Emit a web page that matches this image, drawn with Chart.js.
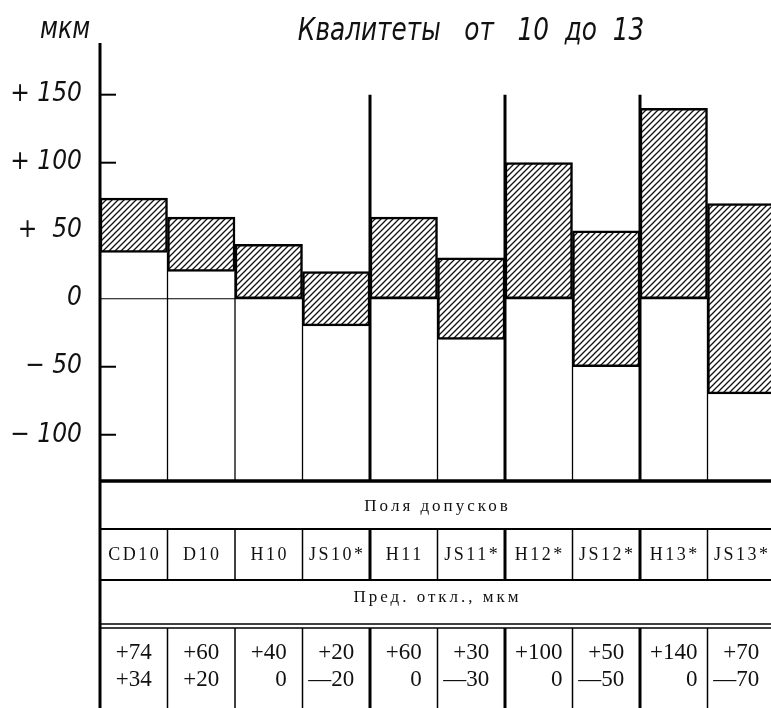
<!DOCTYPE html>
<html>
<head>
<meta charset="utf-8">
<title>Квалитеты от 10 до 13</title>
<script src="https://cdn.jsdelivr.net/npm/chart.js@4.4.1/dist/chart.umd.min.js"></script>
<style>
  html, body { margin: 0; padding: 0; background: #fff; overflow: hidden; }
  #wrap { width: 771px; height: 708px; overflow: hidden; position: relative; }
  #chart { position: absolute; left: 0; top: 0; }
</style>
</head>
<body>
<div id="wrap"><canvas id="chart" width="775" height="708"></canvas></div>
<script>
// tolerance fields, grades 10..13
const categories = ["CD10", "D10", "H10", "JS10*", "H11", "JS11*", "H12*", "JS12*", "H13*", "JS13*"];
const upperDev = [74, 60, 40, 20, 60, 30, 100, 50, 140, 70];
const lowerDev = [34, 20, 0, -20, 0, -30, 0, -50, 0, -70];
const yTicks = [150, 100, 50, 0, -50, -100];
const yTickLabels = ["+ 150", "+ 100", "+  50", "0", "− 50", "− 100"];
const groupStarts = [4, 6, 8]; // first column of grade 11, 12, 13

const handFont = "'Liberation Sans Narrow', 'DejaVu Sans Condensed', sans-serif";
const tableFont = "'Liberation Serif', 'DejaVu Serif', serif";

const canvas = document.getElementById("chart");
const ctx = canvas.getContext("2d");

// diagonal hatch ///
function makeHatch() {
  const s = 6;
  const c = document.createElement("canvas");
  c.width = s;
  c.height = s;
  const g = c.getContext("2d");
  g.fillStyle = "#fff";
  g.fillRect(0, 0, s, s);
  g.strokeStyle = "#111";
  g.lineWidth = 1.3;
  g.beginPath();
  g.moveTo(0, s); g.lineTo(s, 0);
  g.moveTo(-1, 1); g.lineTo(1, -1);
  g.moveTo(s - 1, s + 1); g.lineTo(s + 1, s - 1);
  g.stroke();
  return ctx.createPattern(c, "repeat");
}

const fmt = (v) => (v > 0 ? "+" + v : v < 0 ? "—" + Math.abs(v) : "0");

function line(c, x1, y1, x2, y2, w) {
  c.lineWidth = w;
  c.beginPath();
  c.moveTo(x1, y1);
  c.lineTo(x2, y2);
  c.stroke();
}

// narrow italic lettering, squeezed horizontally
function narrowText(c, text, x, y, size, sx, align) {
  c.save();
  c.font = "italic " + size + "px " + handFont;
  c.textAlign = align;
  c.translate(x, y);
  c.scale(sx, 1);
  c.fillText(text, 0, 0);
  c.restore();
}

const drawing = {
  id: "drawing",
  beforeDatasetsDraw(chart) {
    const c = chart.ctx;
    const xs = chart.scales.x;
    const ys = chart.scales.y;
    const colW = (xs.right - xs.left) / categories.length;
    c.save();
    c.strokeStyle = "#000";
    // zero line
    line(c, xs.left, ys.getPixelForValue(0), xs.right, ys.getPixelForValue(0), 1.2);
    // column lines under the bars
    for (let i = 1; i < categories.length; i++) {
      const x = xs.left + i * colW;
      if (groupStarts.includes(i)) {
        line(c, x, ys.bottom, x, ys.getPixelForValue(150), 3);
      } else {
        const top = Math.max(lowerDev[i - 1], lowerDev[i]);
        line(c, x, ys.bottom, x, ys.getPixelForValue(top), 1.3);
      }
    }
    // tick marks
    yTicks.forEach((v) => {
      if (v !== 0) line(c, xs.left, ys.getPixelForValue(v), xs.left + 16, ys.getPixelForValue(v), 2);
    });
    c.restore();
  },
  afterDraw(chart) {
    const c = chart.ctx;
    const xs = chart.scales.x;
    const ys = chart.scales.y;
    const n = categories.length;
    const colW = (xs.right - xs.left) / n;
    c.save();
    c.strokeStyle = "#000";
    c.fillStyle = "#111";

    // axis, continues down into the table
    line(c, xs.left, ys.top, xs.left, chart.height, 3);

    // headings
    c.textBaseline = "alphabetic";
    narrowText(c, "мкм", 40, 38, 30, 0.88, "left");
    narrowText(c, "Квалитеты   от   10  до  13", 471, 40, 32, 0.86, "center");

    // table
    const t0 = ys.bottom;
    const r1 = t0 + 48, r2 = r1 + 51, r3 = r2 + 44;
    line(c, xs.left, t0, xs.right, t0, 3.5);
    line(c, xs.left, r1, xs.right, r1, 2);
    line(c, xs.left, r2, xs.right, r2, 2);
    line(c, xs.left, r3, xs.right, r3, 1.5);
    line(c, xs.left, r3 + 4, xs.right, r3 + 4, 1.5);
    for (let i = 1; i <= n; i++) {
      const x = xs.left + i * colW;
      const w = groupStarts.includes(i) ? 3 : 1.5;
      line(c, x, r1, x, r2, w);
      line(c, x, r3 + 4, x, chart.height, w);
    }

    const mid = (xs.left + xs.right) / 2;
    c.font = "17px " + tableFont;
    c.letterSpacing = "3px";
    c.textAlign = "center";
    c.fillText("Поля допусков", mid, t0 + 30);
    c.fillText("Пред. откл., мкм", mid, r2 + 22);
    c.font = "18px " + tableFont;
    c.letterSpacing = "2.5px";
    categories.forEach((name, i) => {
      c.fillText(name, xs.left + (i + 0.5) * colW + 1, r1 + 31);
    });
    c.letterSpacing = "0px";

    c.font = "23px " + tableFont;
    categories.forEach((name, i) => {
      const cx = xs.left + (i + 0.5) * colW;
      const up = fmt(upperDev[i]);
      const right = cx + c.measureText(up).width / 2;
      c.textAlign = "right";
      c.fillText(up, right, r3 + 35);
      c.fillText(fmt(lowerDev[i]), right, r3 + 62);
    });
    c.restore();
  }
};

new Chart(ctx, {
  type: "bar",
  data: {
    labels: categories,
    datasets: [{
      label: "Пред. откл., мкм",
      data: categories.map((c, i) => [lowerDev[i], upperDev[i]]),
      backgroundColor: makeHatch(),
      borderColor: "#000",
      borderWidth: 2.5,
      borderSkipped: false,
      barPercentage: 1,
      categoryPercentage: 1
    }]
  },
  options: {
    responsive: false,
    animation: false,
    devicePixelRatio: 1,
    layout: { padding: { top: 43, bottom: 227, left: 0, right: 0 } },
    plugins: {
      legend: { display: false },
      tooltip: { enabled: false }
    },
    scales: {
      x: { display: false },
      y: {
        min: -134,
        max: 188,
        afterBuildTicks: (scale) => { scale.ticks = yTicks.map((v) => ({ value: v })); },
        afterFit: (scale) => { scale.width = 100; },
        border: { display: false },
        grid: { display: false, drawTicks: false },
        ticks: {
          padding: 18,
          color: "#111",
          font: { family: handFont, size: 26, style: "italic" },
          callback: (v) => yTickLabels[yTicks.indexOf(v)]
        }
      }
    }
  },
  plugins: [drawing]
});
</script>
</body>
</html>
